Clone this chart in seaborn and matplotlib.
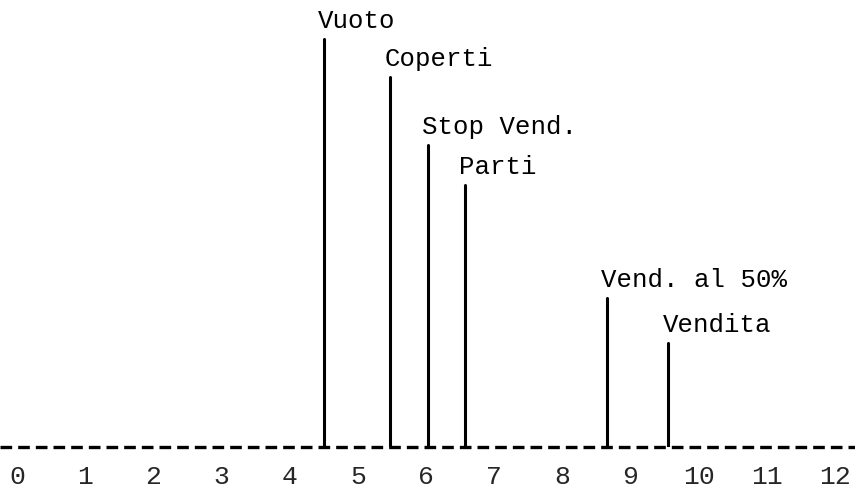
import matplotlib
matplotlib.use("Agg")
import matplotlib.pyplot as plt
import seaborn as sns
import pandas as pd

# Data
events = ["Vuoto", "Coperti", "Stop Vend.", "Parti", "Vend. al 50%", "Vendita"]
positions = [4.5, 5.47, 6.03, 6.57, 8.65, 9.55]
heights = [10.2, 9.25, 7.55, 6.55, 3.72, 2.6]
tick_values = list(range(0, 13))
tick_labels = [str(t) for t in tick_values]

rows = []
for e, x, h in zip(events, positions, heights):
    rows.append({"event": e, "x": x, "y": 0.0})
    rows.append({"event": e, "x": x, "y": h})
df = pd.DataFrame(rows)

sns.set_style("white")
plt.rcParams["font.family"] = ["Liberation Mono", "DejaVu Sans Mono"]

fig = plt.figure(figsize=(8.55, 4.92), dpi=100)
ax = fig.add_axes([0, 45 / 492, 1, 447 / 492])

sns.lineplot(data=df, x="x", y="y", units="event", estimator=None, sort=False,
             color="black", linewidth=2.2, ax=ax, legend=False)

ax.axhline(0, color="black", linewidth=2.4, linestyle=(0, (3.5, 1.8)), clip_on=False)

for e, x, h in zip(events, positions, heights):
    ax.annotate(e, xy=(x, h), xytext=(-4, 4.5), textcoords="offset points",
                ha="left", va="bottom", fontsize=18.5, color="black")

unit = (835 - 17) / 12
ax.set_xlim(-17 / unit, 12 + 20 / unit)
ax.set_ylim(0, 447 / 40)
ax.set_xticks(tick_values)
ax.set_xticklabels(tick_labels, fontsize=19)
ax.set_yticks([])
ax.tick_params(axis="x", length=0, pad=13)
ax.set_xlabel("")
ax.set_ylabel("")
for s in ax.spines.values():
    s.set_visible(False)

fig.savefig("out.png", dpi=100, facecolor="white")
